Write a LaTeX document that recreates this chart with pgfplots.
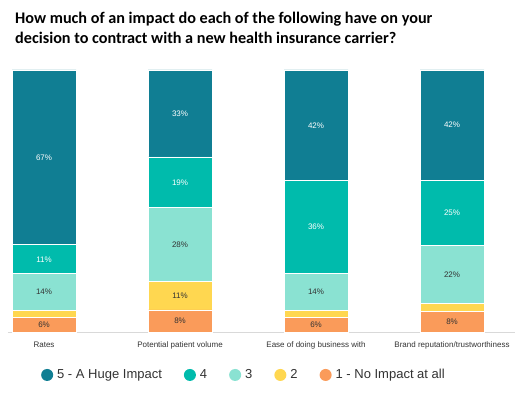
\documentclass[border=0pt]{standalone}
\usepackage{pgfplots}
\pgfplotsset{compat=1.18}
\usepackage{fontspec}
\setmainfont{Liberation Sans}
\newfontfamily\titlefont{Carlito}
\definecolor{c5}{HTML}{107E93}
\definecolor{c4}{HTML}{00BBAC}
\definecolor{c3}{HTML}{8AE2D2}
\definecolor{c2}{HTML}{FFD750}
\definecolor{c1}{HTML}{FA9B5A}
\definecolor{lbl}{HTML}{333333}
\begin{document}
\begin{tikzpicture}[x=1pt,y=1pt]
\useasboundingbox (0,0) rectangle (515,394);
\node[anchor=north west, align=left, inner sep=0pt, font=\titlefont\bfseries\fontsize{16.2}{20}\selectfont] at (15,382)
  {How much of an impact do each of the following have on your\\decision to contract with a new health insurance carrier?};
\begin{axis}[
  at={(8pt,62pt)}, anchor=south west,
  scale only axis, width=507pt, height=262pt,
  ybar stacked, bar width=64pt,
  xmin=-0.265, xmax=3.463, ymin=0, ymax=100,
  clip=false,
  axis x line*=bottom, axis y line=none,
  x axis line style={draw=black!15, line width=0.8pt, -},
  xtick={0,1,2,3},
  xticklabels={Rates, Potential patient volume, Ease of doing business with, Brand reputation/trustworthiness},
  xtick style={draw=none},
  xticklabel style={font=\fontsize{8}{10}\selectfont, text=lbl, yshift=-6pt},
  legend columns=-1,
  reverse legend,
  legend style={at={(0.065,-0.164)}, anchor=west, draw=none, inner sep=0pt,
    font=\fontsize{13}{15}\selectfont, text=lbl,
    nodes={inner sep=1pt},
    /tikz/every odd column/.append style={column sep=3pt},
    /tikz/every even column/.append style={column sep=21pt}},
  legend image code/.code={\path[#1, draw=none, fill] (6pt,0pt) circle (6pt);},
  nodes near coords,
  point meta=explicit symbolic,
  every node near coord/.style={anchor=center, font=\fontsize{8}{9}\selectfont, text=lbl},
]
\addplot[fill=c1, draw=white, line width=0.8pt] coordinates {(0,5.6)[6\%] (1,8.4)[8\%] (2,5.6)[6\%] (3,8)[8\%]};
\addplot[fill=c2, draw=white, line width=0.8pt] coordinates {(0,2.6)[] (1,10.8)[11\%] (2,2.6)[] (3,3)[]};
\addplot[fill=c3, draw=white, line width=0.8pt] coordinates {(0,14)[14\%] (1,28.2)[28\%] (2,14)[14\%] (3,22)[22\%]};
\addplot[fill=c4, draw=white, line width=0.8pt, every node near coord/.append style={text=white}] coordinates {(0,11.1)[11\%] (1,19.4)[19\%] (2,35.6)[36\%] (3,25)[25\%]};
\addplot[fill=c5, draw=white, line width=0.8pt, every node near coord/.append style={text=white}] coordinates {(0,66.7)[67\%] (1,33.2)[33\%] (2,42.2)[42\%] (3,42)[42\%]};
\legend{1 - No Impact at all, 2, 3, 4, 5 - A Huge Impact}
\end{axis}
\end{tikzpicture}
\end{document}
